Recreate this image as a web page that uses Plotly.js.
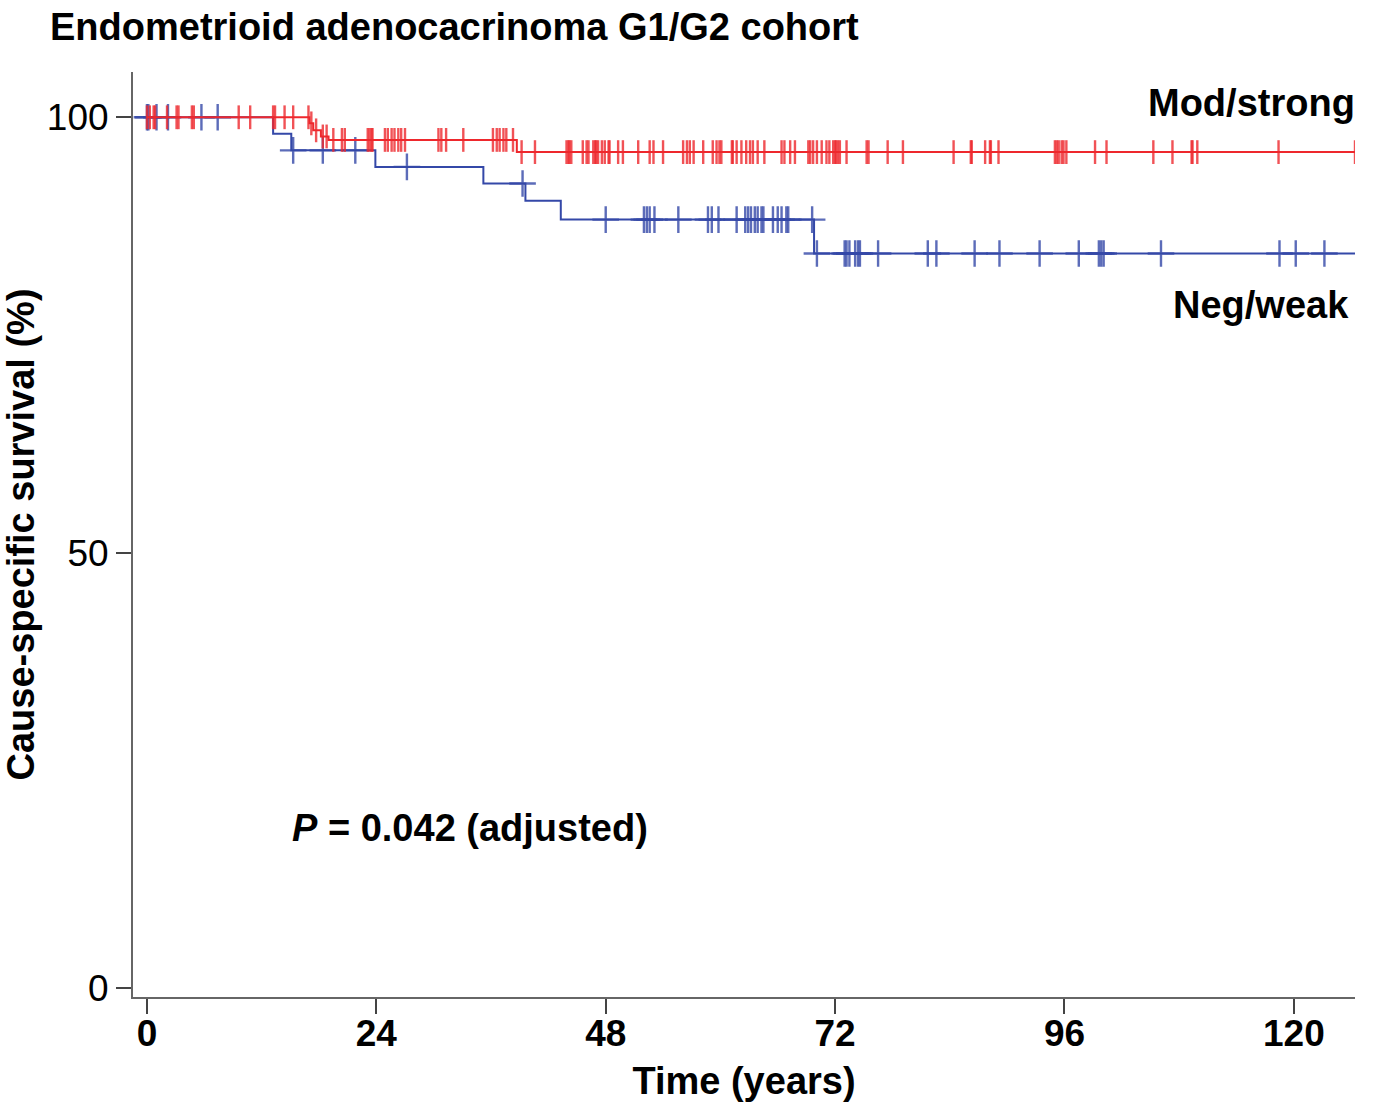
<!DOCTYPE html>
<html>
<head>
<meta charset="utf-8">
<script src="https://cdn.plot.ly/plotly-3.0.1.min.js"></script>
<style>html,body{margin:0;padding:0;background:#fff;}#chart{width:1376px;height:1103px;}</style>
</head>
<body>
<div id="chart"></div>
<script>
// Mod/strong group (red)
const redEventTimes = [17.0, 17.4, 18.2, 19.0, 38.7];
const redEventSurv  = [99.3, 98.5, 97.8, 97.4, 96.0];
const redCensorTimes = [0, 0.3, 0.7, 0.85, 2.1, 3.1, 3.3, 4.7, 4.9, 9.6, 10.8, 13.2, 13.4, 14.4, 15.3, 16.9,
  17.2, 17.7, 18.4, 18.8, 19.5, 20.4, 20.7, 23.1, 23.3, 23.5, 23.6, 24.9, 25.2, 25.6, 25.9, 26.3, 26.6, 27.0,
  30.5, 30.8, 31.3, 33.1, 36.2, 36.6, 36.9, 37.3, 37.6, 38.3, 39.2, 40.6, 43.9, 44.1, 44.2, 44.4, 45.6, 46.0,
  46.2, 46.7, 46.9, 47.0, 47.2, 47.6, 47.9, 48.3, 48.4, 49.3, 49.8, 51.4, 52.6, 53.0, 54.0, 56.1, 56.5, 56.8,
  57.2, 58.2, 59.2, 59.6, 59.9, 60.1, 61.2, 61.3, 61.7, 62.2, 62.7, 63.1, 63.4, 63.9, 64.6, 66.4, 66.7, 67.3,
  67.8, 69.2, 69.4, 69.7, 70.1, 70.6, 71.1, 71.4, 71.8, 72.0, 72.1, 72.3, 72.5, 73.2, 75.3, 75.5, 77.5, 79.1,
  84.4, 86.2, 86.3, 87.7, 88.2, 88.3, 89.1, 95.0, 95.2, 95.4, 95.7, 95.9, 96.2, 99.2, 100.4, 105.3, 107.3,
  109.3, 109.4, 109.9, 118.4, 126.4];
const redEndTime = 126.4;

// Neg/weak group (blue)
const blueEventTimes = [13.2, 15.1, 23.9, 35.2, 39.6, 43.3, 69.8];
const blueEventSurv  = [98.1, 96.2, 94.3, 92.4, 90.4, 88.25, 84.35];
const blueCensorTimes = [0, 0.15, 1.0, 2.2, 5.7, 7.4, 15.3, 18.4, 21.8, 27.2, 39.3, 48.0, 52.0, 52.3, 52.6,
  53.1, 55.6, 58.7, 59.1, 59.8, 61.7, 62.6, 62.9, 63.2, 63.6, 63.9, 64.3, 64.5, 65.5, 66.0, 66.4, 66.9, 67.1,
  69.6, 70.1, 73.0, 73.2, 73.5, 74.1, 74.4, 74.6, 76.5, 81.7, 82.6, 86.6, 89.2, 93.4, 97.5, 99.6, 99.85,
  100.1, 106.1, 118.5, 120.2, 123.2];
const blueEndTime = 126.4;

const groupNames = ["Mod/strong", "Neg/weak"];
const xTickVals = [0, 24, 48, 72, 96, 120];
const yTickVals = [0, 50, 100];

function survAt(times, surv, t) {
  let s = 100;
  for (let i = 0; i < times.length; i++) { if (t >= times[i]) s = surv[i]; }
  return s;
}
function stepTrace(times, surv, end, color) {
  return {
    x: [0].concat(times, [end]),
    y: [100].concat(surv, [surv[surv.length - 1]]),
    mode: 'lines', line: {shape: 'hv', color: color, width: 2},
    hoverinfo: 'skip', showlegend: false
  };
}
function censorTrace(times, evT, evS, color, symbol, size, w) {
  return {
    x: times,
    y: times.map(t => survAt(evT, evS, t)),
    mode: 'markers',
    marker: {symbol: symbol, size: size, color: color, opacity: 0.8, line: {color: color, width: w}},
    hoverinfo: 'skip', showlegend: false
  };
}

const red = 'rgb(238,40,45)';
const blue = 'rgb(52,72,168)';

const data = [
  stepTrace(blueEventTimes, blueEventSurv, blueEndTime, blue),
  censorTrace(blueCensorTimes, blueEventTimes, blueEventSurv, blue, 'cross-thin', 19, 2.4),
  stepTrace(redEventTimes, redEventSurv, redEndTime, red),
  censorTrace(redCensorTimes, redEventTimes, redEventSurv, red, 'line-ns', 17, 2.4)
];

const fam = 'Liberation Sans, Arial, sans-serif';
const bold = {family: fam, size: 38, color: '#000', weight: 'bold'};
const tickBold = {family: fam, size: 37, color: '#000', weight: 'bold'};

const layout = {
  width: 1376, height: 1103,
  margin: {l: 133, r: 21, t: 72, b: 106},
  paper_bgcolor: '#fff', plot_bgcolor: '#fff',
  title: {text: 'Endometrioid adenocacrinoma G1/G2 cohort', font: bold, x: 50/1376, xanchor: 'left', xref: 'container', y: 1 - 27/1103, yanchor: 'middle', yref: 'container'},
  xaxis: {
    range: [-1.46, 126.4], tickvals: xTickVals, ticktext: xTickVals.map(String),
    showgrid: false, zeroline: false, showline: true, linecolor: '#666', linewidth: 2,
    ticks: 'outside', ticklen: 15, tickwidth: 2, tickcolor: '#444',
    tickfont: tickBold, ticklabelstandoff: -12,
    title: {text: 'Time (years)', font: bold, standoff: 14}
  },
  yaxis: {
    range: [-1.03, 105.2], tickvals: yTickVals, ticktext: yTickVals.map(String),
    showgrid: false, zeroline: false, showline: true, linecolor: '#666', linewidth: 2,
    ticks: 'outside', ticklen: 15, tickwidth: 2, tickcolor: '#444',
    tickfont: {family: fam, size: 37, color: '#000'},
    title: {text: 'Cause-specific survival (%)', font: bold, standoff: 16}
  },
  annotations: [
    {text: groupNames[0], x: (1357 - 133) / (1376 - 133 - 21), y: (997 - 103) / (997 - 72), xref: 'paper', yref: 'paper', xanchor: 'right', yanchor: 'middle', showarrow: false, font: bold},
    {text: groupNames[1], x: 126.0, y: 78.4, xref: 'x', yref: 'y', xanchor: 'right', yanchor: 'middle', showarrow: false, font: bold},
    {text: '<i>P</i> = 0.042 (adjusted)', x: 14.96, y: 18.4, xref: 'x', yref: 'y', xanchor: 'left', yanchor: 'middle', showarrow: false, font: bold}
  ]
};

Plotly.newPlot('chart', data, layout, {displayModeBar: false, staticPlot: true});
</script>
</body>
</html>
